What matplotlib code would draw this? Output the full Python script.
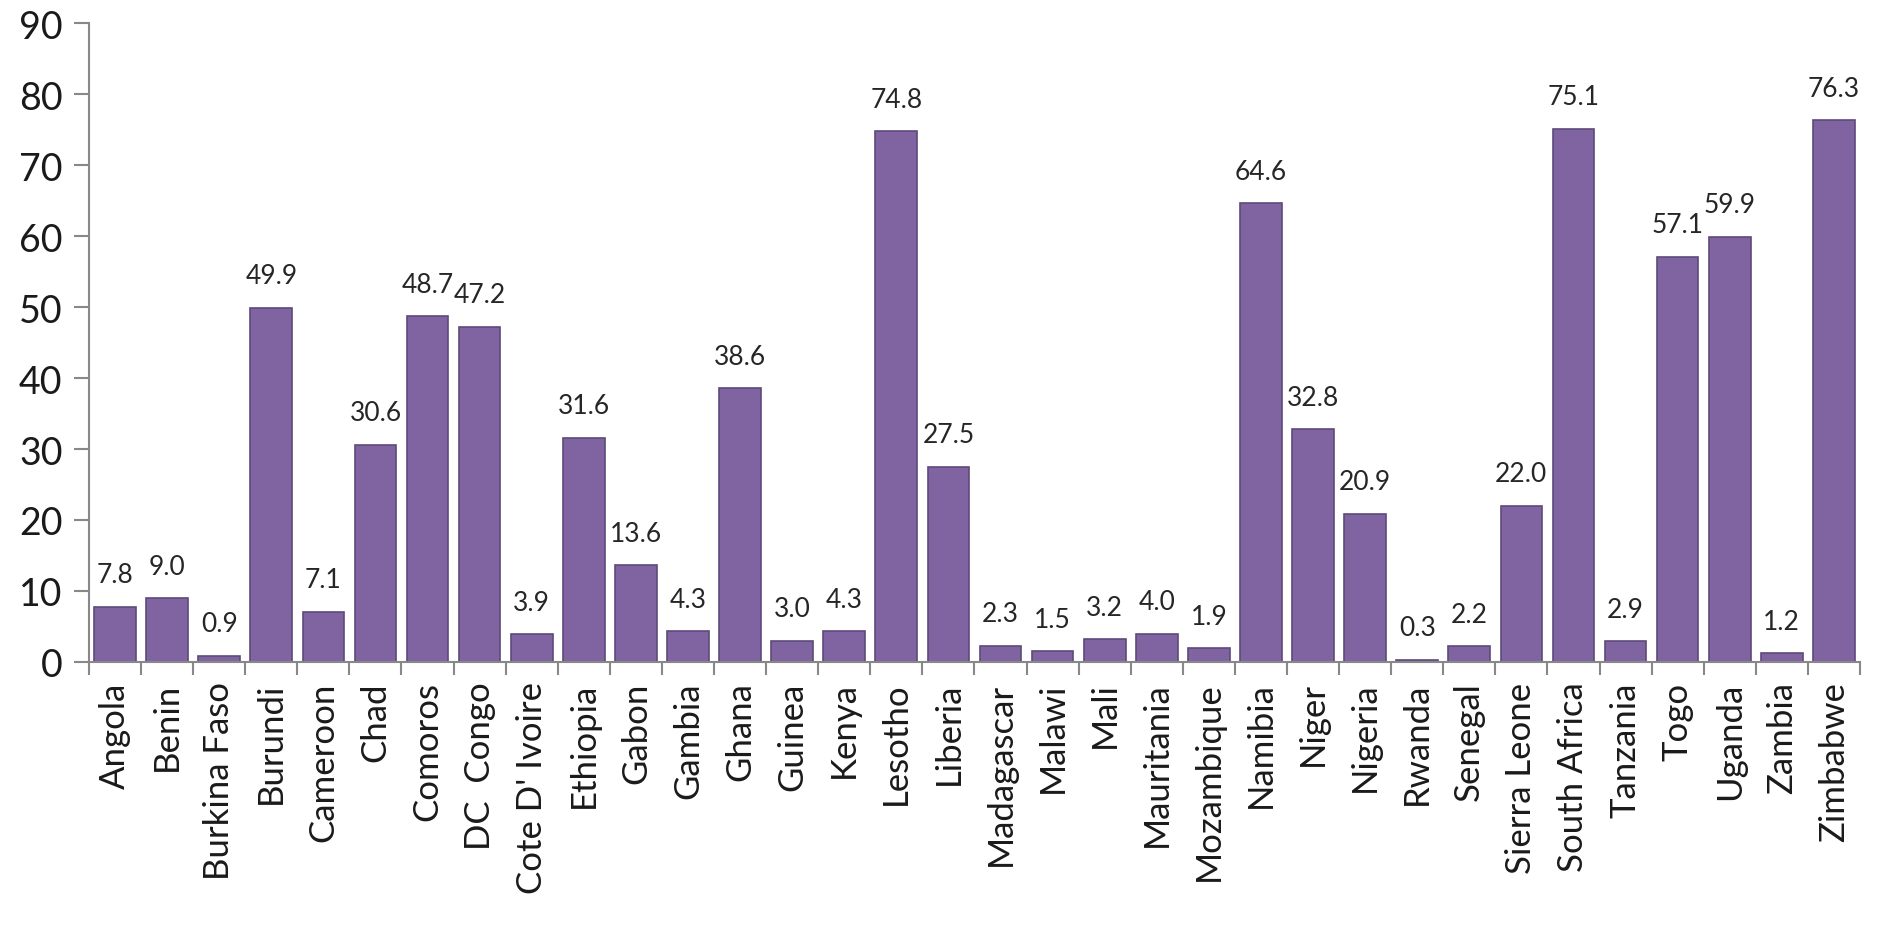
import matplotlib.pyplot as plt

countries = ["Angola", "Benin", "Burkina Faso", "Burundi", "Cameroon", "Chad",
             "Comoros", "DC  Congo", "Cote D' Ivoire", "Ethiopia", "Gabon",
             "Gambia", "Ghana", "Guinea", "Kenya", "Lesotho", "Liberia",
             "Madagascar", "Malawi", "Mali", "Mauritania", "Mozambique",
             "Namibia", "Niger", "Nigeria", "Rwanda", "Senegal", "Sierra Leone",
             "South Africa", "Tanzania", "Togo", "Uganda", "Zambia", "Zimbabwe"]
values = [7.8, 9.0, 0.9, 49.9, 7.1, 30.6, 48.7, 47.2, 3.9, 31.6, 13.6, 4.3,
          38.6, 3.0, 4.3, 74.8, 27.5, 2.3, 1.5, 3.2, 4.0, 1.9, 64.6, 32.8,
          20.9, 0.3, 2.2, 22.0, 75.1, 2.9, 57.1, 59.9, 1.2, 76.3]
yticks = [0, 10, 20, 30, 40, 50, 60, 70, 80, 90]

plt.rcParams['font.family'] = ['Lato', 'DejaVu Sans']

fig = plt.figure(figsize=(19.01, 9.28), dpi=100)
ax = fig.add_axes([0.0468, 0.2856, 0.9316, 0.6884])

xs = list(range(len(countries)))
bars = ax.bar(xs, values, width=0.8, color="#8064A2", edgecolor="#5E4A7A",
              linewidth=1.2)

for x, v in zip(xs, values):
    ax.annotate("{:.1f}".format(v), (x, v), xytext=(0, 14),
                textcoords="offset points", ha="center", va="bottom",
                fontsize=19, color="#262626")

ax.set_xlim(-0.5, len(countries) - 0.5)
ax.set_ylim(0, 90)
ax.set_yticks(yticks)
ax.tick_params(axis="y", labelsize=27, length=11, width=1.5, color="#888888",
               pad=8, labelcolor="#1a1a1a")

# category labels at centers, tick marks between categories
ax.set_xticks(xs)
ax.set_xticklabels(countries, rotation=90, fontsize=25, color="#1a1a1a")
ax.tick_params(axis="x", which="major", length=0, pad=14)
ax.set_xticks([i - 0.5 for i in range(len(countries) + 1)], minor=True)
ax.tick_params(axis="x", which="minor", length=9, width=1.5, color="#888888")

for s in ["top", "right"]:
    ax.spines[s].set_visible(False)
for s in ["left", "bottom"]:
    ax.spines[s].set_color("#888888")
    ax.spines[s].set_linewidth(1.5)

fig.savefig("out.png", dpi=100)
